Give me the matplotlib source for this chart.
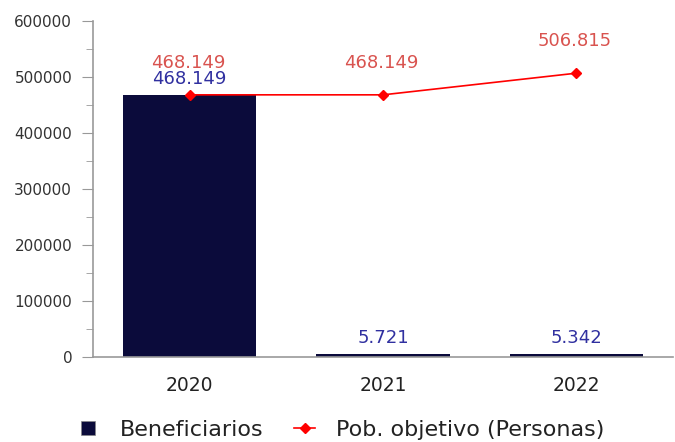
import numpy as np
import matplotlib.pyplot as plt
from matplotlib.ticker import MultipleLocator
from matplotlib.lines import Line2D

anios = ['2020', '2021', '2022']
beneficiarios = [468149, 5721, 5342]
pob_objetivo = [468149, 468149, 506815]
etiq_benef = ['468.149', '5.721', '5.342']
etiq_pob = ['468.149', '468.149', '506.815']

fig = plt.figure(figsize=(6.75, 4.42), dpi=100)
ax = fig.add_axes([93 / 675, 1 - 357 / 442, 580 / 675, 336 / 442])

x = np.arange(len(anios))
ax.bar(x, beneficiarios, width=0.69, color='#0b0b3b', zorder=2)
ax.plot(x, pob_objetivo, color='#ff0000', marker='D', markersize=5, linewidth=1.2, zorder=3)

for i in range(len(anios)):
    ax.annotate(etiq_benef[i], (x[i], beneficiarios[i]), xytext=(0, 8), textcoords='offset points',
                ha='center', va='baseline', color='#3030a0', fontsize=13)
    ax.annotate(etiq_pob[i], (x[i], pob_objetivo[i]), xytext=(-1, 19.5), textcoords='offset points',
                ha='center', va='baseline', color='#d9534f', fontsize=13)

ax.set_xlim(-0.5, 2.5)
ax.set_ylim(0, 600000)
ax.set_xticks(x)
ax.set_xticklabels(anios, fontsize=13.5, color='#222222')
ax.yaxis.set_major_locator(MultipleLocator(100000))
ax.yaxis.set_minor_locator(MultipleLocator(50000))
ax.tick_params(axis='y', which='major', length=8, color='#999999', labelsize=11,
               labelcolor='#333333', pad=7)
ax.tick_params(axis='y', which='minor', length=5, color='#999999')
ax.tick_params(axis='x', length=0, pad=14)
for s in ['top', 'right']:
    ax.spines[s].set_visible(False)
for s in ['left', 'bottom']:
    ax.spines[s].set_color('#999999')
    ax.spines[s].set_linewidth(1.2)

handles = [Line2D([0], [0], color='#0b0b3b', marker='s', markersize=10, linestyle='none',
                  markeredgecolor='#888888', markeredgewidth=0.5),
           Line2D([0], [0], color='#ff0000', marker='D', markersize=5, linewidth=1.2)]
fig.legend(handles, ['Beneficiarios', 'Pob. objetivo (Personas)'], loc='center',
           bbox_to_anchor=(341 / 675, 1 - 430 / 442), ncol=2, frameon=False, fontsize=16,
           handlelength=0.95, columnspacing=1.4, handletextpad=0.95, labelcolor='#222222')

fig.savefig('out.png', dpi=100)
